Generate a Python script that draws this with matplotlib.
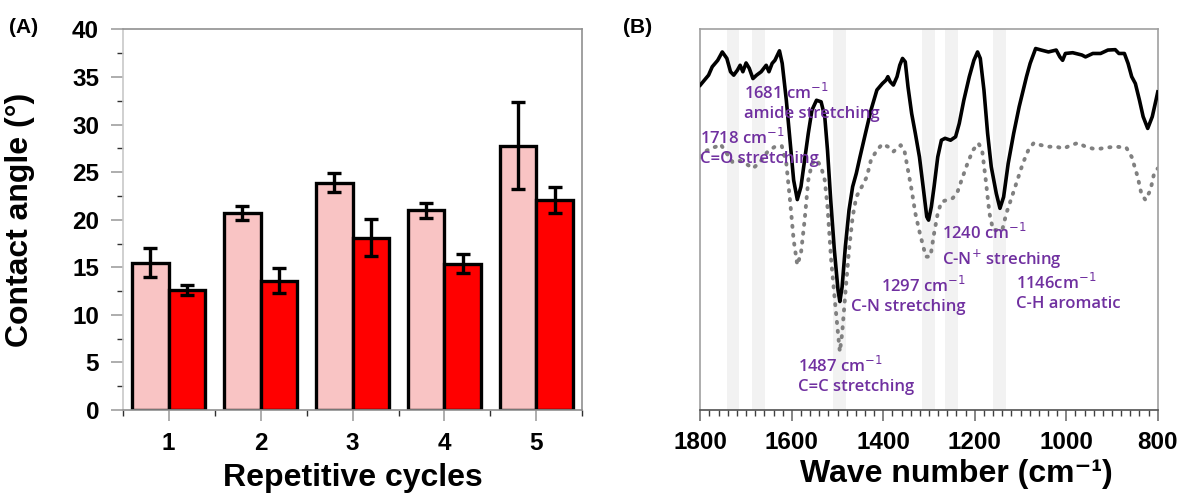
import matplotlib.pyplot as plt
import numpy as np

plt.rcParams['font.family'] = ['Liberation Sans', 'DejaVu Sans']

# (A) contact angle data
cycles = [1, 2, 3, 4, 5]
angle_a = [15.5, 20.7, 23.9, 21.0, 27.8]
err_a = [1.5, 0.75, 1.0, 0.8, 4.6]
angle_b = [12.6, 13.6, 18.1, 15.4, 22.1]
err_b = [0.5, 1.35, 1.95, 1.05, 1.35]

# (B) FTIR spectra (arbitrary intensity units)
wn_solid = [1800, 1782, 1774, 1762, 1752, 1742, 1734, 1727, 1719, 1713, 1707, 1700, 1693,
            1685, 1677, 1667, 1656, 1650, 1643, 1637, 1627, 1621, 1612, 1604, 1596, 1588,
            1580, 1572, 1564, 1556, 1546, 1536, 1528, 1522, 1515, 1507, 1499, 1495, 1490,
            1483, 1475, 1467, 1459, 1451, 1439, 1427, 1414, 1402, 1394, 1390, 1385, 1378,
            1370, 1364, 1358, 1352, 1346, 1338, 1330, 1321, 1313, 1305, 1301, 1295, 1289,
            1281, 1273, 1265, 1253, 1242, 1234, 1224, 1212, 1202, 1194, 1188, 1180, 1172,
            1164, 1153, 1145, 1137, 1127, 1115, 1103, 1087, 1079, 1067, 1055, 1039, 1022,
            1014, 1008, 1002, 986, 966, 958, 942, 925, 909, 893, 885, 873, 865, 857, 849,
            840, 832, 822, 812, 804, 800]
int_solid = [85.4, 88.0, 90.2, 91.9, 94.1, 92.4, 88.9, 88.0, 89.3, 90.6, 88.9, 91.2, 89.8,
             87.1, 88.0, 88.9, 90.6, 88.9, 91.1, 91.9, 94.4, 91.1, 81.4, 70.9, 60.4, 55.3,
             58.7, 65.7, 72.7, 78.8, 81.4, 81.0, 77.1, 68.3, 55.2, 42.0, 31.5, 28.5, 32.4,
             42.9, 52.5, 58.7, 62.2, 66.5, 72.7, 78.8, 84.1, 85.8, 86.7, 87.6, 86.3, 85.4,
             87.6, 90.6, 92.4, 91.5, 84.9, 77.9, 72.7, 66.5, 58.7, 50.8, 49.9, 53.4, 58.7,
             66.5, 70.9, 71.4, 70.9, 71.8, 75.3, 81.4, 87.6, 91.9, 94.1, 92.4, 84.1, 72.7,
             63.9, 56.9, 53.0, 56.0, 64.8, 72.7, 79.7, 87.6, 91.1, 95.0, 94.6, 94.1, 94.6,
             92.8, 91.9, 93.7, 93.9, 93.3, 92.8, 93.7, 93.7, 94.6, 94.7, 93.7, 93.7, 91.1,
             87.6, 85.8, 81.4, 77.1, 74.0, 77.1, 81.4, 83.6]

wn_dot = [1800, 1790, 1778, 1766, 1756, 1742, 1730, 1718, 1701, 1685, 1669, 1653, 1637, 1622,
          1612, 1604, 1596, 1588, 1580, 1572, 1564, 1556, 1546, 1536, 1528, 1522, 1514, 1506,
          1499, 1495, 1490, 1483, 1475, 1467, 1459, 1447, 1436, 1427, 1414, 1402, 1390, 1378,
          1362, 1354, 1346, 1338, 1330, 1320, 1307, 1297, 1289, 1281, 1273, 1261, 1249, 1239,
          1229, 1216, 1204, 1192, 1184, 1176, 1168, 1160, 1150, 1140, 1131, 1119, 1107, 1095,
          1083, 1071, 1055, 1039, 1022, 1006, 990, 974, 958, 942, 925, 909, 893, 869, 857,
          844, 836, 827, 816, 808, 800]
int_dot = [66.5, 67.9, 68.7, 69.2, 69.9, 67.4, 65.2, 65.7, 64.8, 63.5, 65.2, 67.9, 69.2, 69.4,
           64.8, 55.2, 44.7, 38.1, 41.2, 49.9, 60.4, 64.8, 65.8, 63.9, 60.4, 53.4, 39.4, 28.9,
           20.1, 15.3, 20.1, 30.6, 42.0, 50.8, 56.0, 58.7, 61.3, 65.7, 68.3, 69.9, 69.2, 67.9,
           69.6, 68.3, 63.0, 57.8, 51.7, 46.4, 40.3, 40.3, 46.4, 51.7, 54.7, 55.2, 55.6, 56.9,
           60.4, 64.8, 68.3, 70.1, 68.3, 60.4, 51.7, 47.3, 47.3, 47.3, 51.7, 56.0, 60.4, 64.8,
           68.3, 70.2, 69.6, 69.2, 69.2, 68.7, 69.6, 70.2, 69.2, 68.7, 68.7, 69.0, 69.2, 69.0,
           66.5, 61.3, 56.9, 55.2, 57.8, 62.2, 63.5]

band_lo = [1742, 1688, 1511, 1315, 1265, 1160]
band_hi = [1716, 1659, 1481, 1287, 1236, 1131]

peak_text = ['1718 cm$^{-1}$\nC=O stretching', '1681 cm$^{-1}$\namide stretching',
             '1487 cm$^{-1}$\nC=C stretching', '1297 cm$^{-1}$\nC-N stretching',
             '1240 cm$^{-1}$\nC-N$^{+}$ streching', '1146cm$^{-1}$\nC-H aromatic']
peak_x = [1800, 1705, 1586, 1220, 1271, 1111]
peak_y = [69.0, 80.8, 9.0, 30.2, 42.9, 31.0]
peak_ha = ['left', 'left', 'left', 'right', 'left', 'left']

fig = plt.figure(figsize=(11.79, 5.0), dpi=100)
ax1 = fig.add_axes([0.104, 0.18, 0.39, 0.761])
ax2 = fig.add_axes([0.594, 0.18, 0.388, 0.761])

# ---- panel A ----
x = np.array(cycles)
w = 0.4
ax1.bar(x - w / 2, angle_a, w, color='#F9C4C4', edgecolor='black', linewidth=2.4, zorder=2)
ax1.bar(x + w / 2, angle_b, w, color='#FF0000', edgecolor='black', linewidth=2.4, zorder=2)
ax1.errorbar(x - w / 2, angle_a, yerr=err_a, fmt='none', ecolor='black', elinewidth=2.4,
             capsize=5, capthick=2.4, zorder=3)
ax1.errorbar(x + w / 2, angle_b, yerr=err_b, fmt='none', ecolor='black', elinewidth=2.4,
             capsize=5, capthick=2.4, zorder=3)
ax1.set_xlim(0.5, 5.5)
ax1.set_ylim(0, 40)
ax1.set_yticks(range(0, 41, 5))
ax1.set_yticks(np.arange(2.5, 40, 5), minor=True)
ax1.set_xticks(cycles)
ax1.set_xticks(np.arange(0.5, 5.6, 1), minor=True)
ax1.tick_params(axis='both', which='major', labelsize=17.5, color='#A0A0A0', width=1.2)
ax1.tick_params(axis='y', which='major', length=9, pad=8)
ax1.tick_params(axis='x', which='major', length=8, pad=8)
ax1.tick_params(axis='both', which='minor', length=4, color='#303030', width=1)
for lab in ax1.get_xticklabels() + ax1.get_yticklabels():
    lab.set_fontweight('bold')
for s in ['top', 'right']:
    ax1.spines[s].set_color('#909090')
ax1.spines['left'].set_color('#C8C8C8')
ax1.spines['bottom'].set_color('#909090')
for s in ax1.spines.values():
    s.set_linewidth(1.2)
ax1.set_ylabel('Contact angle (\u00b0)', fontsize=23, fontweight='bold')
ax1.yaxis.set_label_coords(-0.19, 0.5)
ax1.set_xlabel('Repetitive cycles', fontsize=23, fontweight='bold')
ax1.xaxis.set_label_coords(0.5, -0.14)
fig.text(0.008, 0.945, '(A)', fontsize=15, fontweight='bold', va='center')

# ---- panel B ----
for lo, hi in zip(band_lo, band_hi):
    ax2.axvspan(hi, lo, color='#F2F2F2', lw=0, zorder=0)
ax2.plot(wn_dot, int_dot, color='#808080', lw=2.8, linestyle=(0, (0.3, 2.0)),
         dash_capstyle='round', zorder=2)
ax2.plot(wn_solid, int_solid, color='black', lw=2.6, zorder=3)
for t, px, py, ha in zip(peak_text, peak_x, peak_y, peak_ha):
    ax2.text(px, py, t, ha=ha, va='center', fontsize=12, color='#7030A0',
             family=['Open Sans', 'DejaVu Sans'], fontweight='semibold',
             linespacing=1.25, zorder=4)
ax2.set_xlim(1800, 800)
ax2.set_ylim(0, 100)
ax2.set_yticks([])
ax2.set_xticks(range(1800, 799, -200))
ax2.set_xticks(range(1800, 799, -20), minor=True)
ax2.tick_params(axis='x', which='major', labelsize=17.5, length=8, width=1.2,
                color='#707070', pad=7)
ax2.tick_params(axis='x', which='minor', length=4, width=1, color='#404040')
for lab in ax2.get_xticklabels():
    lab.set_fontweight('bold')
for s in ['top', 'right', 'left']:
    ax2.spines[s].set_color('#A0A0A0')
ax2.spines['bottom'].set_color('#505050')
for s in ax2.spines.values():
    s.set_linewidth(1.2)
ax2.set_xlabel('Wave number (cm\u207b\u00b9)', fontsize=23, fontweight='bold')
ax2.xaxis.set_label_coords(0.56, -0.13)
fig.text(0.528, 0.945, '(B)', fontsize=15, fontweight='bold', va='center')

fig.savefig('out.png', dpi=100)
